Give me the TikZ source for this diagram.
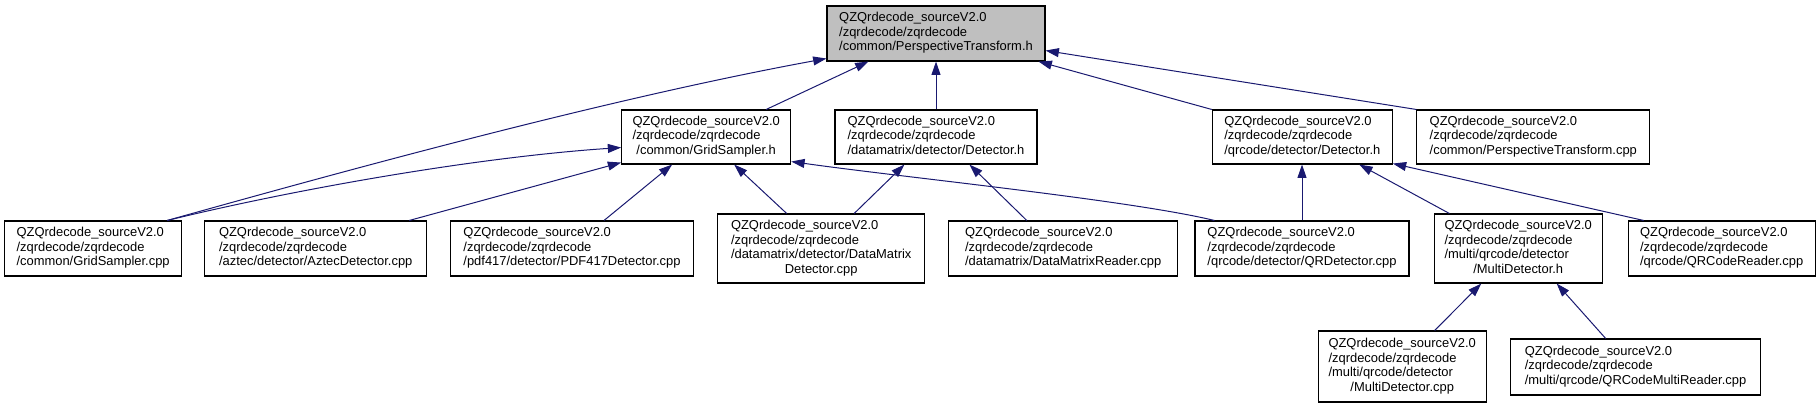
\documentclass[tikz,border=0pt]{standalone}
\usepackage{fontspec}
\setmainfont{Liberation Sans}
\usetikzlibrary{arrows.meta,calc}
\definecolor{edgeblue}{HTML}{191970}
\definecolor{rootgray}{HTML}{BFBFBF}
\newcommand{\dxthree}[3]{\begin{tabular}{@{}l@{}}#1\\#2\\\multicolumn{1}{@{}c@{}}{#3}\end{tabular}}
\newcommand{\dxfour}[4]{\begin{tabular}{@{}l@{}}#1\\#2\\#3\\\multicolumn{1}{@{}c@{}}{#4}\end{tabular}}
\newcommand{\qzq}{QZQrdecode\_sourceV2.0}
\newcommand{\zqz}{/zqrdecode/zqrdecode}
\begin{document}
\begin{tikzpicture}[x=0.75pt,y=-0.75pt,
  box/.style={draw=black, line width=0.8pt, fill=white, inner sep=0pt,
    font=\fontsize{9.7}{10.9}\selectfont},
  bw/.style={minimum width=#1*0.75pt},
  bh/.style={minimum height=#1*0.75pt},
  dep/.style={draw=edgeblue, line width=0.75pt, -{Triangle[length=10pt,width=6.7pt]}}]
\useasboundingbox (0,0) rectangle (1820,408);
% top
\node[box, bw=218, bh=55, fill=rootgray] (root) at (936,33.5) {\dxthree{\qzq}{\zqz}{/common/PerspectiveTransform.h}};
% middle row
\node[box, bw=169, bh=54] (gsh) at (706.2,137) {\dxthree{\qzq}{\zqz}{/common/GridSampler.h}};
\node[box, bw=202, bh=54] (dmdh) at (936,137) {\dxthree{\qzq}{\zqz}{/datamatrix/detector/Detector.h}};
\node[box, bw=180, bh=54] (qrdh) at (1302.3,137) {\dxthree{\qzq}{\zqz}{/qrcode/detector/Detector.h}};
\node[box, bw=233, bh=54] (ptcpp) at (1533.3,137) {\dxthree{\qzq}{\zqz}{/common/PerspectiveTransform.cpp}};
% bottom row
\node[box, bw=177, bh=55] (gscpp) at (93.1,248.5) {\dxthree{\qzq}{\zqz}{/common/GridSampler.cpp}};
\node[box, bw=222, bh=55] (aztec) at (315.7,248.5) {\dxthree{\qzq}{\zqz}{/aztec/detector/AztecDetector.cpp}};
\node[box, bw=243, bh=55] (pdf) at (572,248.5) {\dxthree{\qzq}{\zqz}{/pdf417/detector/PDF417Detector.cpp}};
\node[box, bw=207, bh=69] (dmdcpp) at (821.2,248.5) {\dxfour{\qzq}{\zqz}{/datamatrix/detector/DataMatrix}{Detector.cpp}};
\node[box, bw=229, bh=55] (dmr) at (1063.2,248.5) {\dxthree{\qzq}{\zqz}{/datamatrix/DataMatrixReader.cpp}};
\node[box, bw=214, bh=55] (qrdcpp) at (1302,248.5) {\dxthree{\qzq}{\zqz}{/qrcode/detector/QRDetector.cpp}};
\node[box, bw=168, bh=69] (mdh) at (1518.2,248.5) {\dxfour{\qzq}{\zqz}{/multi/qrcode/detector}{/MultiDetector.h}};
\node[box, bw=187, bh=55] (qrcr) at (1721.7,248.5) {\dxthree{\qzq}{\zqz}{/qrcode/QRCodeReader.cpp}};
% lowest row
\node[box, bw=168, bh=71] (mdcpp) at (1402.2,366.5) {\dxfour{\qzq}{\zqz}{/multi/qrcode/detector}{/MultiDetector.cpp}};
\node[box, bw=250, bh=56] (qrcmr) at (1635.5,367) {\dxthree{\qzq}{\zqz}{/multi/qrcode/QRCodeMultiReader.cpp}};
% edges
\draw[dep] ($(gsh.north west)+(145,0)$) -- ($(root.south west)+(42,0)$);
\draw[dep] (dmdh.north) -- (root.south);
\draw[dep] (qrdh.north west) -- ($(root.south east)+(-7,0)$);
\draw[dep] (ptcpp.north west) -- ($(root.south east)+(0,-11)$);
\draw[dep] ($(gscpp.north east)+(-15,0)$) .. controls (330,175) and (600,100) .. ($(root.south west)+(0,-3)$);
\draw[dep] ($(gscpp.north east)+(-15,0)$) .. controls (300,188) and (480,157) .. ($(gsh.south west)+(0,-17)$);
\draw[dep] ($(aztec.north east)+(-18,0)$) -- ($(gsh.south west)+(0,-2)$);
\draw[dep] ($(pdf.north east)+(-90,0)$) -- ($(gsh.south west)+(51,0)$);
\draw[dep] ($(dmdcpp.north west)+(69.5,0)$) -- ($(gsh.south west)+(113,0)$);
\draw[dep] ($(dmdcpp.north west)+(137,0)$) -- ($(dmdh.south west)+(70,0)$);
\draw[dep] ($(dmr.north west)+(78.6,0)$) -- ($(dmdh.south west)+(135,0)$);
\draw[dep] ($(qrdcpp.north west)+(20,0)$) .. controls (1130,200) and (900,177) .. ($(gsh.south east)+(0,-3)$);
\draw[dep] (qrdcpp.north) -- (qrdcpp.north |- qrdh.south);
\draw[dep] ($(mdh.north west)+(15.7,0)$) -- ($(qrdh.south west)+(147.5,0)$);
\draw[dep] ($(qrcr.north west)+(16,0)$) -- ($(qrdh.south east)+(0,-1)$);
\draw[dep] ($(mdcpp.north west)+(117,0)$) -- ($(mdh.south west)+(47.6,0)$);
\draw[dep] ($(qrcmr.north west)+(95.7,0)$) -- ($(mdh.south west)+(123,0)$);
\end{tikzpicture}
\end{document}
